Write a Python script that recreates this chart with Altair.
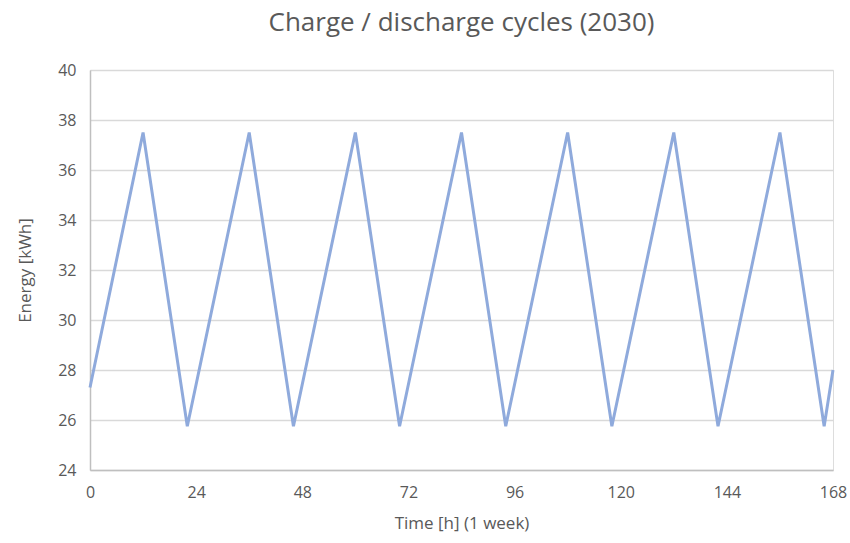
import altair as alt
import pandas as pd

time_h = [0, 12, 22, 36, 46, 60, 70, 84, 94, 108, 118, 132, 142, 156, 166, 168]
energy_kwh = [27.3, 37.5, 25.75, 37.5, 25.75, 37.5, 25.75, 37.5, 25.75, 37.5, 25.75, 37.5, 25.75, 37.5, 25.75, 28.0]
x_ticks = [0, 24, 48, 72, 96, 120, 144, 168]
y_ticks = [24, 26, 28, 30, 32, 34, 36, 38, 40]

df = pd.DataFrame({"t": time_h, "e": energy_kwh})

FONT = "Open Sans"
GRAY = "#595959"

chart = alt.Chart(df).mark_line(color="#8faadc", strokeWidth=3).encode(
    x=alt.X("t:Q", scale=alt.Scale(domain=[0, 168], nice=False, zero=False),
            axis=alt.Axis(values=x_ticks, title="Time [h] (1 week)", grid=False,
                          domainColor="#bfbfbf", domainWidth=1.5, ticks=False, labelFlush=False,
                          labelPadding=14, labelFontSize=16, labelColor=GRAY, labelFont=FONT,
                          titleFontSize=17, titleColor=GRAY, titleFont=FONT, titleFontWeight="normal",
                          titlePadding=15)),
    y=alt.Y("e:Q", scale=alt.Scale(domain=[24, 40], nice=False, zero=False),
            axis=alt.Axis(values=y_ticks, title="Energy [kWh]", grid=True, gridColor="#d9d9d9",
                          gridWidth=1.5, domainColor="#bfbfbf", domainWidth=1.5, ticks=False,
                          labelPadding=14, labelFontSize=16, labelColor=GRAY, labelFont=FONT,
                          titleFontSize=17, titleColor=GRAY, titleFont=FONT, titleFontWeight="normal",
                          titlePadding=23)),
).properties(
    width=743, height=400,
    title=alt.TitleParams("Charge / discharge cycles (2030)", fontSize=26, color=GRAY, font=FONT,
                          fontWeight="normal", anchor="middle", offset=26),
    autosize=alt.AutoSizeParams(type="none"),
    padding={"left": 90, "top": 70, "right": 17, "bottom": 73},
).configure_view(stroke=None).configure(background="white")

chart.save("out.html", embed_options={"renderer": "svg", "actions": False})
